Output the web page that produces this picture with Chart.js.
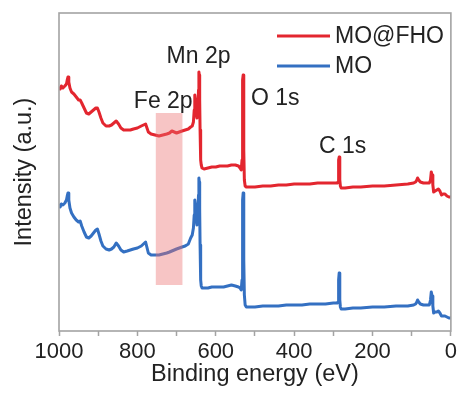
<!DOCTYPE html>
<html>
<head>
<meta charset="utf-8">
<script src="https://cdn.jsdelivr.net/npm/chart.js@4"></script>
<style>
  body { margin: 0; background: #fff; }
  #xps { display: block; }
</style>
</head>
<body>
<canvas id="xps" width="460" height="394"></canvas>
<script>
// binding energy (eV), shared by both survey scans
const energy = [1000, 997, 994, 990, 985, 981, 979, 977, 975, 972, 968, 962, 956, 950, 946, 942, 936, 930, 924, 918,
  912, 906, 902, 898, 893, 888, 880, 872, 866, 860, 854, 848, 842, 835, 826, 818, 810, 800, 790, 779,
  772, 765, 755, 745, 735, 725, 718, 712, 706, 700, 693, 686, 678, 670, 664, 660, 657, 655, 654, 653,
  652, 650, 648, 646, 644, 643, 642, 641, 640, 639, 638, 637, 635, 630, 620, 610, 600, 590, 580, 570,
  560, 550, 542, 538, 535, 533, 532, 531, 530, 529, 528, 527, 525, 522, 515, 500, 480, 460, 440, 420,
  400, 380, 360, 340, 320, 300, 290, 288, 287, 286, 285, 284, 283, 282, 280, 270, 250, 230, 200, 170,
  140, 110, 95, 90, 87, 85, 82, 78, 70, 60, 55, 52, 50, 48, 46, 44, 40, 36, 32, 28,
  24, 20, 15, 10, 5, 0];

// intensity (a.u.), MO@FHO scan (offset upward)
const moFho = [243, 242, 245, 243, 245, 247, 251, 254, 249, 243, 239, 237, 234, 231, 231, 228, 223, 218, 217, 219,
  221, 223, 223, 219, 213, 208, 205, 205, 206, 208, 210, 207, 203, 201, 201, 201, 202, 203, 205, 207,
  199, 197, 196, 195, 196, 197, 198, 200, 199, 198, 199, 200, 201, 202, 204, 205, 209, 221, 233, 236,
  231, 219, 213, 219, 241, 259, 256, 231, 201, 181, 171, 166, 163, 162, 163, 164, 164, 165, 165, 165,
  166, 166, 165, 163, 161, 171, 211, 251, 256, 241, 181, 151, 145, 144, 144, 144, 145, 145, 146, 146,
  147, 147, 147, 148, 148, 148, 148, 149, 156, 171, 174, 166, 151, 145, 143, 143, 144, 144, 145, 145,
  146, 147, 148, 149, 151, 153, 151, 149, 148, 148, 148, 151, 159, 156, 146, 139, 140, 141, 142, 140,
  136, 137, 137, 135, 134, 134];

// intensity (a.u.), MO scan
const mo = [126, 124, 127, 126, 128, 131, 135, 138, 131, 123, 118, 114, 111, 109, 110, 105, 99, 94, 93, 95,
  98, 101, 102, 97, 90, 85, 82, 81, 82, 84, 88, 85, 81, 79, 80, 81, 82, 83, 85, 89,
  78, 76, 76, 76, 77, 78, 79, 80, 81, 82, 83, 84, 85, 87, 93, 96, 103, 116, 126, 131,
  126, 113, 106, 116, 136, 153, 149, 121, 86, 66, 51, 45, 43, 43, 43, 44, 44, 44, 44, 45,
  46, 45, 44, 43, 41, 51, 91, 131, 138, 121, 71, 36, 26, 24, 24, 24, 25, 25, 25, 26,
  26, 26, 27, 27, 27, 28, 28, 29, 36, 51, 58, 48, 31, 24, 22, 22, 23, 23, 24, 24,
  25, 25, 26, 27, 29, 31, 29, 27, 26, 26, 26, 31, 39, 35, 25, 18, 19, 19, 20, 18,
  15, 15, 15, 14, 13, 13];

const seriesNames = ["MO@FHO", "MO"];
const peakLabels = ["Fe 2p", "Mn 2p", "O 1s", "C 1s"];
const xTickValues = [1000, 800, 600, 400, 200, 0];

const RED = "#e3262f";
const BLUE = "#3470c2";
const FRAME = "#a3a3a3";
const INK = "#222";
const FONT = "'Liberation Sans', Arial, sans-serif";

const toPoints = (ys) => energy.map((e, i) => ({ x: e, y: ys[i] }));

// frame, Fe 2p window, peak names and legend
const decorations = {
  id: "decorations",
  afterDatasetsDraw(chart) {
    const { ctx, chartArea: a, scales: { x, y } } = chart;
    ctx.save();
    // shaded Fe 2p window (drawn over the traces, semi-transparent)
    ctx.fillStyle = "rgba(235,110,110,0.4)";
    const bx0 = x.getPixelForValue(753), bx1 = x.getPixelForValue(685);
    const by0 = y.getPixelForValue(218), by1 = y.getPixelForValue(46);
    ctx.fillRect(bx0, by0, bx1 - bx0, by1 - by0);

    // box around the plot
    ctx.strokeStyle = FRAME;
    ctx.lineWidth = 1.6;
    ctx.strokeRect(a.left, a.top, a.right - a.left, a.bottom - a.top);

    // peak names
    const spots = {
      "Fe 2p": [734, 223, "center"],
      "Mn 2p": [644, 268, "center"],
      "O 1s": [510, 226, "left"],
      "C 1s": [276, 178, "center"],
    };
    ctx.fillStyle = INK;
    ctx.font = "23px " + FONT;
    ctx.textBaseline = "alphabetic";
    peakLabels.forEach((name) => {
      const [e, v, align] = spots[name];
      ctx.textAlign = align;
      ctx.fillText(name, x.getPixelForValue(e), y.getPixelForValue(v));
    });

    // legend, top right
    const colors = [RED, BLUE];
    ctx.textAlign = "left";
    ctx.textBaseline = "middle";
    seriesNames.forEach((name, i) => {
      const ly = 36 + i * 30;
      ctx.strokeStyle = colors[i];
      ctx.lineWidth = 3;
      ctx.beginPath();
      ctx.moveTo(277, ly);
      ctx.lineTo(330, ly);
      ctx.stroke();
      ctx.fillText(name, 335, ly + 1);
    });
    ctx.restore();
  },
};

new Chart(document.getElementById("xps"), {
  type: "line",
  data: {
    datasets: [
      { label: seriesNames[0], data: toPoints(moFho), borderColor: RED },
      { label: seriesNames[1], data: toPoints(mo), borderColor: BLUE },
    ],
  },
  options: {
    responsive: false,
    animation: false,
    devicePixelRatio: 1,
    layout: { padding: { top: 13, right: 8, left: 0, bottom: 0 } },
    elements: {
      line: { borderWidth: 3, tension: 0, borderJoinStyle: "round", borderCapStyle: "round" },
      point: { radius: 0 },
    },
    scales: {
      x: {
        type: "linear",
        reverse: true,
        min: 0,
        max: 1000,
        afterFit: (s) => { s.height = 63; },
        afterBuildTicks: (s) => {
          s.ticks = [];
          for (let v = 1000; v >= 0; v -= 100) s.ticks.push({ value: v });
        },
        ticks: {
          color: INK,
          padding: 3,
          maxRotation: 0,
          autoSkip: false,
          font: { family: FONT, size: 22 },
          callback: (v) => (xTickValues.includes(v) ? String(v) : ""),
        },
        grid: { drawOnChartArea: false, tickLength: 5, tickColor: FRAME, tickWidth: 1.5 },
        border: { display: false },
        title: {
          display: true,
          text: "Binding energy (eV)",
          color: INK,
          font: { family: FONT, size: 23.5 },
          padding: { top: 0, bottom: 5 },
        },
      },
      y: {
        min: 0,
        max: 318,
        afterFit: (s) => { s.width = 59; },
        ticks: { display: false },
        grid: { display: false },
        border: { display: false },
        title: {
          display: true,
          text: "Intensity (a.u.)",
          color: INK,
          font: { family: FONT, size: 23.5 },
          padding: { top: 10, bottom: 0 },
        },
      },
    },
    plugins: {
      legend: { display: false },
      tooltip: { enabled: false },
    },
  },
  plugins: [decorations],
});
</script>
</body>
</html>
